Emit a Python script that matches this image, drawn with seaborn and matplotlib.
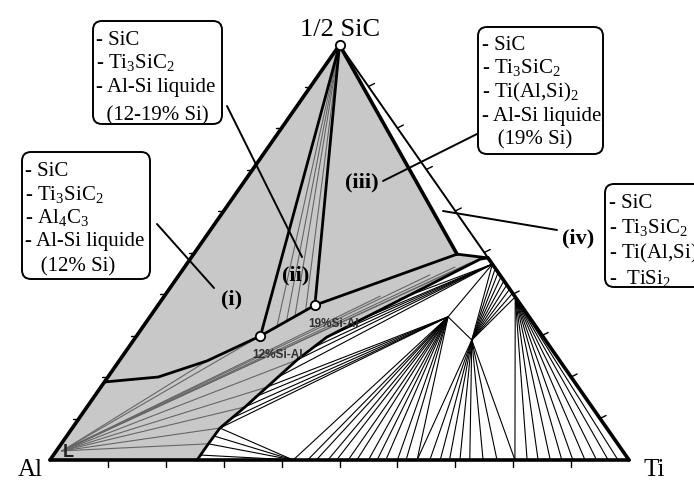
import matplotlib
matplotlib.use("Agg")
import numpy as np
import pandas as pd
import matplotlib.pyplot as plt
import matplotlib.transforms as mtrans
from matplotlib.patches import FancyBboxPatch
import seaborn as sns

# ---------------- data: compositions in % (Ti, 1/2SiC); Al = remainder ----------------
apex = (0.0, 100.0)
al_corner = (0.0, 0.0)
ti_corner = (100.0, 0.0)

invariant_ti = [21.4, 27.1]            # 12%Si-Al and 19%Si-Al liquid points
invariant_sic = [29.9, 37.3]
invariant_labels = ["12%Si-Al", "19%Si-Al"]

q_corner = (45.5, 49.6)                # SiC/Ti3SiC2 boundary end
p_edge = (51.3, 48.7)                  # on the Ti - 1/2SiC edge

liq_ti = [0.0, 8.7, 15.2, 21.4]        # boundary Al-edge -> 12%Si-Al
liq_sic = [18.8, 20.0, 23.9, 29.9]

low_ti = [25.4, 25.4, 25.5, 27.3, 28.7, 30.6, 33.0, 50.1, 51.3]   # lower limit of grey field
low_sic = [0.0, 3.9, 7.7, 12.8, 17.6, 24.1, 29.6, 48.4, 48.7]

apex_tie_ti = [23.1, 24.1, 25.0, 26.1]
apex_tie_sic = [32.2, 33.5, 34.6, 36.1]

liq_hub = (1.0, 2.2)                   # "L"
liq_tie_ti = [21.4, 15.2, 30.6, 28.7, 27.3, 25.5, 25.4, 37.3, 43.3, 46.7, 48.8, 49.6]
liq_tie_sic = [29.9, 23.9, 24.1, 17.6, 12.8, 7.7, 3.9, 39.5, 44.6, 46.5, 47.5, 48.1]

v1_hub = (51.5, 34.5)
v1_base_ti = [42.0, 44.5, 46.0, 48.0, 49.5, 51.5, 53.0, 55.0, 56.5, 58.0, 60.0, 61.5, 63.4]
v1_up_ti = [25.5, 26.4, 27.3, 27.8, 28.7]
v1_up_sic = [7.7, 10.1, 12.8, 15.2, 17.6]

b1_hub = (42.0, 0.0)
b1_ti = [25.3, 25.4, 25.4, 25.5]
b1_sic = [1.2, 3.9, 5.8, 7.7]

r1_hub = (52.8, 47.2)
r1_ti = [29.6, 30.6, 31.8, 33.0, 36.6, 41.0, 51.5, 58.4]
r1_sic = [20.2, 24.1, 27.0, 29.6, 33.7, 38.8, 34.5, 28.9]

v2_hub = (58.4, 28.9)
v2_edge_sic = [46.2, 45.2, 44.2, 43.2, 42.2, 41.2, 40.2, 39.3]
v2_base_ti = [63.4, 65.6, 67.4, 69.0, 70.8, 72.5, 74.8, 77.2, 80.3]

r2_hub = (60.7, 39.3)
r2_base_ti = [80.3, 82.4, 84.3, 86.4, 88.4, 90.3, 92.4, 94.4, 96.4, 98.1]

tick_values = [10, 20, 30, 40, 50, 60, 70, 80, 90]

# ---------------- geometry helpers ----------------
SX, SY = 5.79, 4.15          # pixels per % along x and y
def cart(ti, sic):
    return ti + sic / 2.0, sic

rows = []
def add_seg(kind, pts):
    sid = rows[-1][0] + 1 if rows else 0
    for (t, s) in pts:
        x, y = cart(t, s)
        rows.append((sid, kind, x, y))

# grey tie lines (regions i / ii)
for t, s in zip(apex_tie_ti, apex_tie_sic):
    add_seg("grey", [apex, (t, s)])
for t, s in zip(liq_tie_ti, liq_tie_sic):
    add_seg("grey", [liq_hub, (t, s)])

# black tie lines in the white field
for t in v1_base_ti:
    add_seg("tie", [v1_hub, (t, 0.0)])
for t, s in zip(v1_up_ti, v1_up_sic):
    add_seg("tie", [v1_hub, (t, s)])
for t, s in zip(b1_ti, b1_sic):
    add_seg("tie", [b1_hub, (t, s)])
for t, s in zip(r1_ti, r1_sic):
    add_seg("tie", [r1_hub, (t, s)])
add_seg("tie", [v1_hub, v2_hub])
for s in v2_edge_sic:
    add_seg("tie", [v2_hub, (100 - s, s)])
for t in v2_base_ti:
    add_seg("tie", [v2_hub, (t, 0.0)])
for t in r2_base_ti:
    add_seg("tie", [r2_hub, (t, 0.0)])

# thick phase boundaries
add_seg("thick", list(zip(liq_ti, liq_sic)))
add_seg("thick", list(zip(invariant_ti, invariant_sic)) + [q_corner, p_edge])
add_seg("thick", list(zip(low_ti, low_sic)))
add_seg("thick", [apex, (invariant_ti[0], invariant_sic[0])])
add_seg("thick", [apex, (invariant_ti[1], invariant_sic[1])])
add_seg("edge", [apex, q_corner])
add_seg("edge", [al_corner, ti_corner])
add_seg("edge", [al_corner, apex])
add_seg("edge", [p_edge, ti_corner])
add_seg("outer", [apex, p_edge])

# ticks
for v in tick_values:
    x, y = cart(v, 0)
    rows.append((rows[-1][0] + 1, "tick", x, y)); rows.append((rows[-1][0], "tick", x, y - 7 / SY))
    x, y = cart(0, v)
    rows.append((rows[-1][0] + 1, "tick", x, y)); rows.append((rows[-1][0], "tick", x - 6 / SX, y))
    x, y = cart(100 - v, v)
    rows.append((rows[-1][0] + 1, "tick", x, y)); rows.append((rows[-1][0], "tick", x + 6 / SX, y + 3 / SY))

df = pd.DataFrame(rows, columns=["seg", "kind", "x", "y"])

# ---------------- figure ----------------
sns.set_style("white")
plt.rcParams["font.family"] = ["Liberation Serif", "DejaVu Serif"]
plt.rcParams["mathtext.fontset"] = "custom"
plt.rcParams["mathtext.rm"] = "Liberation Serif"
plt.rcParams["mathtext.default"] = "regular"

fig = plt.figure(figsize=(6.94, 4.81), dpi=100)
ax = fig.add_axes([0, 0, 1, 1])
ax.set_xlim(-50 / SX, 644 / SX)
ax.set_ylim(-20 / SY, 461 / SY)
ax.axis("off")

# grey field
poly = [al_corner, apex, q_corner, p_edge] + list(zip(low_ti, low_sic))[::-1]
px, py = zip(*[cart(t, s) for t, s in poly])
ax.fill(px, py, color="#c8c8c8", lw=0, zorder=0)

styles = {
    "grey": dict(color="#666666", linewidth=0.8, zorder=1),
    "tie": dict(color="black", linewidth=0.8, zorder=2),
    "thick": dict(color="black", linewidth=2.0, zorder=3),
    "edge": dict(color="black", linewidth=2.6, zorder=4),
    "outer": dict(color="black", linewidth=1.4, zorder=4),
    "tick": dict(color="black", linewidth=1.0, zorder=4),
}
for kind, st in styles.items():
    sub = df[df.kind == kind]
    sns.lineplot(data=sub, x="x", y="y", units="seg", estimator=None, sort=False,
                 ax=ax, legend=False, solid_capstyle="round", **st)

# invariant points and apex
cx, cy = zip(*[cart(t, s) for t, s in zip(invariant_ti + [apex[0]], invariant_sic + [apex[1]])])
sns.scatterplot(x=list(cx), y=list(cy), ax=ax, s=45, color="white", edgecolor="black",
                linewidth=1.3, zorder=6, legend=False)

ax.set_xlabel(""); ax.set_ylabel("")

# ---------------- annotations in pixel coordinates ----------------
pix = mtrans.Affine2D().scale(1 / 694, -1 / 481).translate(0, 1) + fig.transFigure

def ptxt(x, y, s, **kw):
    kw.setdefault("color", "black")
    fig.text(0, 0, s, transform=pix, **kw).set_position((x, y))

ptxt(340, 36, "1/2 SiC", fontsize=19, ha="center", va="baseline")
ptxt(30, 476, "Al", fontsize=18, ha="center", va="baseline")
ptxt(654, 476, "Ti", fontsize=18, ha="center", va="baseline")

lab_font = dict(family=["Liberation Sans Narrow", "Liberation Sans", "DejaVu Sans"],
                fontweight="bold", fontsize=8.5, color="#303030", va="baseline", ha="left")
ptxt(252, 358, invariant_labels[0], **lab_font)
ptxt(308, 327, invariant_labels[1], **lab_font)
ptxt(63, 457, "L", family=["Liberation Sans", "DejaVu Sans"], fontweight="bold",
     fontsize=13, color="#202020", va="baseline")

bold = dict(fontsize=16, fontweight="bold", ha="center", va="center", color="black")
ptxt(232, 299, "(i)", **bold)
ptxt(296, 275, "(ii)", **bold)
ptxt(362, 182, "(iii)", **bold)
ptxt(578, 238, "(iv)", **bold)

boxes = [
    (93, 22, 129, 103, 96, [("- SiC", 45), ("- Ti$_3$SiC$_2$", 68), ("- Al-Si liquide", 92),
                           ("  (12-19% Si)", 120)]),
    (22, 153, 128, 127, 25, [("- SiC", 176), ("- Ti$_3$SiC$_2$", 200), ("- Al$_4$C$_3$", 223),
                            ("- Al-Si liquide", 246), ("   (12% Si)", 271)]),
    (478, 28, 125, 127, 482, [("- SiC", 50), ("- Ti$_3$SiC$_2$", 73), ("- Ti(Al,Si)$_2$", 97),
                             ("- Al-Si liquide", 121), ("   (19% Si)", 144)]),
    (605, 185, 120, 103, 609, [("- SiC", 208), ("- Ti$_3$SiC$_2$", 233), ("- Ti(Al,Si)$_2$", 258),
                              ("-  TiSi$_2$", 284)]),
]
for (x0, y0, w, h, tx, lines) in boxes:
    fig.patches.append(FancyBboxPatch((x0, y0), w, h, boxstyle="round,pad=0,rounding_size=9",
                                      transform=pix, facecolor="white", edgecolor="black",
                                      linewidth=1.4, zorder=7))
    for s, yb in lines:
        ptxt(tx, yb, s, fontsize=15, ha="left", va="baseline", zorder=8)

leaders = [((227, 107), (302, 258)), ((157, 225), (214, 289)),
           ((383, 182), (477, 135)), ((443, 212), (557, 231))]
for (a, b) in leaders:
    fig.lines.append(plt.Line2D([a[0], b[0]], [a[1], b[1]], transform=pix,
                                color="black", linewidth=1.4, zorder=7))

fig.savefig("out.png", dpi=100)
